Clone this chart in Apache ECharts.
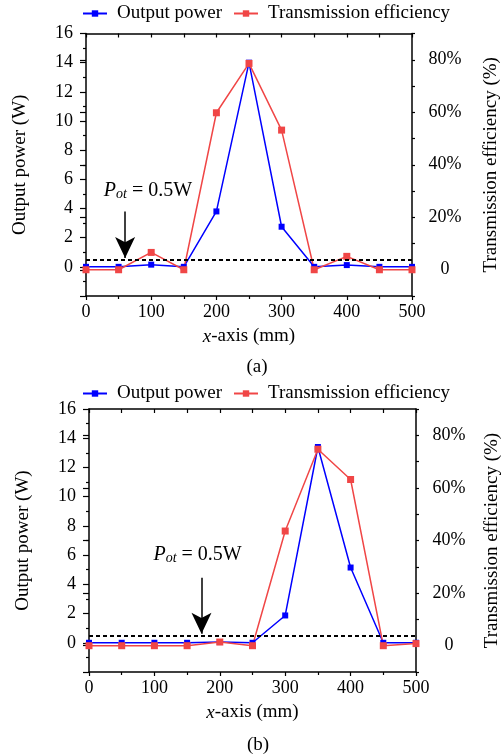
<!DOCTYPE html>
<html>
<head>
<meta charset="utf-8">
<title>Output power / transmission efficiency</title>
<script src="https://cdn.jsdelivr.net/npm/echarts@6/dist/echarts.min.js"></script>
<style>
  html, body { margin: 0; padding: 0; background: #fff; }
  #main { width: 501px; height: 756px; }
</style>
</head>
<body>
<div id="main"></div>
<script>
  // x positions (mm)
  const xPos = [0, 50, 100, 150, 200, 250, 300, 350, 400, 450, 500];
  // (a)
  const powerA = [0, 0, 0.15, 0, 3.8, 14.0, 2.75, 0, 0.12, 0, 0];
  const effA = [0, 0, 6.6, 0, 59.8, 78.6, 53.2, 0, 5.1, 0, 0];
  // (b)
  const powerB = [0, 0, 0, 0, 0.05, 0, 1.87, 13.4, 5.15, 0, 0];
  const effB = [0, 0, 0, 0, 1.4, 0, 43.6, 74.7, 63.2, 0, 0.8];
  // right axis labels
  const effTicks = [0, 20, 40, 60, 80];
  const threshold = 0.5;

  const FONT = 'Liberation Serif';
  const BLUE = '#0000ff';
  const RED = '#f04646';

  const contain = document.getElementById('main');
  const myChart = echarts.init(contain, null, {renderer: 'canvas'});

  const pairs = (ys) => xPos.map((x, i) => [x, ys[i]]);

  const grids = [
    {left: 86, top: 33.5, width: 326, height: 262.5, outerBoundsMode: 'none'},
    {left: 89, top: 409, width: 327, height: 263, outerBoundsMode: 'none'}
  ];
  const rightNameGap = [70, 67];

  let xAxes = [], yAxes = [], series = [];

  grids.forEach((g, gi) => {
    // bottom x axis
    xAxes.push({
      gridIndex: gi, type: 'value', position: 'bottom', min: 0, max: 500, interval: 100,
      name: '{i|x}-axis (mm)', nameLocation: 'middle', nameGap: 31,
      nameTextStyle: {fontFamily: FONT, fontSize: 19, color: '#000',
        rich: {i: {fontFamily: FONT, fontSize: 19, fontStyle: 'italic', color: '#000'}}},
      axisLine: {onZero: false, lineStyle: {color: '#000', width: 1.5}},
      axisTick: {length: 4, lineStyle: {color: '#000', width: 1.2}},
      minorTick: {show: true, splitNumber: 2, length: 3, lineStyle: {color: '#000', width: 1.2}},
      axisLabel: {fontFamily: FONT, fontSize: 18, color: '#000', margin: 7},
      splitLine: {show: false}
    });
    // top frame
    xAxes.push({
      gridIndex: gi, type: 'value', position: 'top', min: 0, max: 500, interval: 50,
      axisLine: {onZero: false, lineStyle: {color: '#000', width: 1.5}},
      axisTick: {inside: true, length: 4, lineStyle: {color: '#000', width: 1.2}},
      axisLabel: {show: false},
      splitLine: {show: false}
    });
    // left power axis
    yAxes.push({
      gridIndex: gi, type: 'value', position: 'left', min: -2, max: 16, interval: 2,
      name: 'Output power (W)', nameLocation: 'middle', nameGap: 56,
      nameTextStyle: {fontFamily: FONT, fontSize: 19, color: '#000'},
      axisLine: {onZero: false, lineStyle: {color: '#000', width: 1.5}},
      axisTick: {length: 6, lineStyle: {color: '#000', width: 1.2}},
      minorTick: {show: true, splitNumber: 2, length: 3, lineStyle: {color: '#000', width: 1.2}},
      axisLabel: {fontFamily: FONT, fontSize: 18, color: '#000', margin: 13,
        formatter: (v) => (v < 0 ? '' : String(v))},
      splitLine: {show: false}
    });
    // right efficiency axis (data + small ticks)
    yAxes.push({
      gridIndex: gi, type: 'value', position: 'right', min: -10, max: 90, interval: 10,
      axisLine: {onZero: false, lineStyle: {color: '#000', width: 1.5}},
      axisTick: {length: 3, lineStyle: {color: '#000', width: 1.2}},
      axisLabel: {show: false},
      splitLine: {show: false}
    });
    // right efficiency axis (labels + long ticks)
    yAxes.push({
      gridIndex: gi, type: 'value', position: 'right', min: -10, max: 90,
      name: 'Transmission efficiency (%)', nameLocation: 'middle', nameGap: rightNameGap[gi], nameRotate: 90,
      nameTextStyle: {fontFamily: FONT, fontSize: 19, color: '#000'},
      axisLine: {show: false},
      axisTick: {inside: true, length: 6, customValues: effTicks, lineStyle: {color: '#000', width: 1.2}},
      axisLabel: {fontFamily: FONT, fontSize: 18, color: '#000', margin: 33, align: 'center',
        customValues: effTicks, formatter: (v) => (v === 0 ? '0' : v + '%')},
      splitLine: {show: false}
    });
  });

  const annot = [
    {arrowX: 60, arrowTop: 3.8, arrowTip: 0.6, textX: 95, textY: 5.2},
    {arrowX: 172, arrowTop: 4.45, arrowTip: 0.62, textX: 166, textY: 6.0}
  ];

  [[powerA, effA], [powerB, effB]].forEach(([pw, ef], gi) => {
    const a = annot[gi];
    series.push({
      name: 'Output power', type: 'line', xAxisIndex: gi * 2, yAxisIndex: gi * 3,
      data: pairs(pw), symbol: 'rect', symbolSize: 6,
      itemStyle: {color: BLUE}, lineStyle: {color: BLUE, width: 1.5},
      markLine: {
        silent: true, symbol: ['none', 'none'], label: {show: false},
        data: [
          {yAxis: threshold, lineStyle: {color: '#000', width: 2, type: [4, 3]}},
          [
            {coord: [a.arrowX, a.arrowTop], symbol: 'none', lineStyle: {color: '#000', width: 1.5, type: 'solid'}},
            {coord: [a.arrowX, a.arrowTip], symbol: 'arrow', symbolSize: [15, 21]}
          ]
        ]
      },
      markPoint: {
        silent: true, symbol: 'rect', symbolSize: 0,
        data: [{coord: [a.textX, a.textY]}],
        label: {
          show: true, position: 'inside', color: '#000',
          formatter: '{p|P}{s|ot}{t| = 0.5W}',
          rich: {
            p: {fontFamily: FONT, fontSize: 20, fontStyle: 'italic', color: '#000'},
            s: {fontFamily: FONT, fontSize: 14, fontStyle: 'italic', color: '#000', padding: [7, 0, 0, 0]},
            t: {fontFamily: FONT, fontSize: 20, color: '#000'}
          }
        }
      }
    });
    series.push({
      name: 'Transmission efficiency', type: 'line', xAxisIndex: gi * 2, yAxisIndex: gi * 3 + 1,
      data: pairs(ef), symbol: 'rect', symbolSize: 7,
      itemStyle: {color: RED}, lineStyle: {color: RED, width: 1.5}
    });
  });

  const legendBase = {
    left: 82, padding: 0, itemWidth: 24, itemHeight: 8, itemGap: 11,
    textStyle: {fontFamily: FONT, fontSize: 19, color: '#000', padding: [0, 0, 0, 5]},
    data: ['Output power', 'Transmission efficiency']
  };

  const option = {
    animation: false,
    backgroundColor: '#fff',
    title: [
      {text: '(a)', left: 252, top: 353, textAlign: 'center',
        textStyle: {fontFamily: FONT, fontSize: 19, fontWeight: 'normal', color: '#000'}},
      {text: '(b)', left: 253, top: 731, textAlign: 'center',
        textStyle: {fontFamily: FONT, fontSize: 19, fontWeight: 'normal', color: '#000'}}
    ],
    legend: [
      Object.assign({top: 4}, legendBase),
      Object.assign({top: 384}, legendBase)
    ],
    grid: grids,
    xAxis: xAxes,
    yAxis: yAxes,
    series: series
  };

  myChart.setOption(option);
</script>
</body>
</html>
